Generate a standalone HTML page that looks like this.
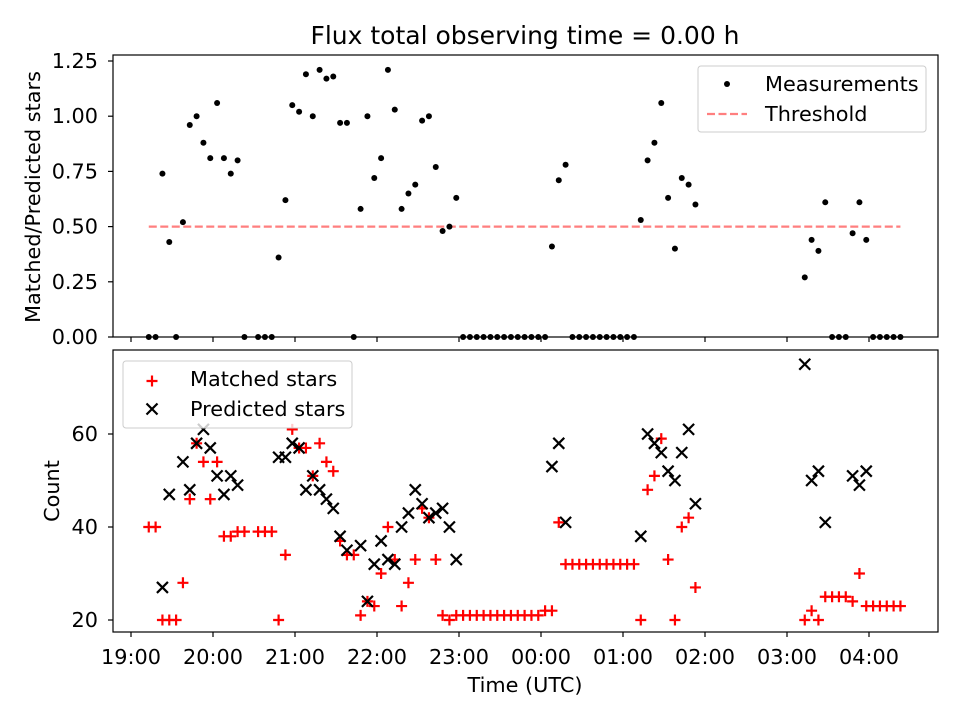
<!DOCTYPE html>
<html><head><meta charset="utf-8"><style>
body{margin:0;background:#fff;font-family:"Liberation Sans","DejaVu Sans",sans-serif}
svg text{font-family:"DejaVu Sans","Liberation Sans",sans-serif}
</style></head><body>
<svg id="c" width="960" height="720" xmlns="http://www.w3.org/2000/svg"></svg>
<script>
// Data: minutes since 19:00 via index k -> 13 + 5k
const idx = [0,1,2,3,4,5,6,7,8,9,10,11,12,13,14,16,17,18,19,20,21,22,23,24,25,26,27,28,29,30,31,32,33,34,35,36,37,38,39,40,41,42,43,44,45,46,47,48,49,50,51,52,53,54,55,56,57,58,59,60,61,62,63,64,65,66,67,68,69,70,71,72,73,74,75,76,77,78,79,80,96,97,98,99,100,101,102,103,104,105,106,107,108,109,110];
const ratio = [0,0,0.74,0.43,0,0.52,0.96,1.0,0.88,0.81,1.06,0.81,0.74,0.80,0,0,0,0,0.36,0.62,1.05,1.02,1.19,1.0,1.21,1.17,1.18,0.97,0.97,0,0.58,1.0,0.72,0.81,1.21,1.03,0.58,0.65,0.69,0.98,1.0,0.77,0.48,0.50,0.63,0,0,0,0,0,0,0,0,0,0,0,0,0,0.41,0.71,0.78,0,0,0,0,0,0,0,0,0,0,0.53,0.80,0.88,1.06,0.63,0.40,0.72,0.69,0.60,0.27,0.44,0.39,0.61,0,0,0,0.47,0.61,0.44,0,0,0,0,0];
const matched = [40,40,20,20,20,28,46,58,54,46,54,38,38,39,39,39,39,39,20,34,61,57,57,51,58,54,52,37,34,34,21,24,23,30,40,33,23,28,33,44,42,33,21,20,21,21,21,21,21,21,21,21,21,21,21,21,21,22,22,41,32,32,32,32,32,32,32,32,32,32,32,20,48,51,59,33,20,40,42,27,20,22,20,25,25,25,25,24,30,23,23,23,23,23,23];
const predicted = [null,null,27,47,null,54,48,58,61,57,51,47,51,49,null,null,null,null,55,55,58,57,48,51,48,46,44,38,35,null,36,24,32,37,33,32,40,43,48,45,42,43,44,40,33,null,null,null,null,null,null,null,null,null,null,null,null,null,53,58,41,null,null,null,null,null,null,null,null,null,null,38,60,58,56,52,50,56,61,45,75,50,52,41,null,null,null,51,49,52,null,null,null,null,null];
const threshold = [0.5, 0.5];
const thresholdSpan = [13, 563];
const xTickLabels = ["19:00","20:00","21:00","22:00","23:00","00:00","01:00","02:00","03:00","04:00"];
const topTicks = [0,0.25,0.5,0.75,1.0,1.25];
const botTicks = [20,40,60];

const NS="http://www.w3.org/2000/svg", svg=document.getElementById('c');
function el(t,a,p){const e=document.createElementNS(NS,t);for(const k in a)e.setAttribute(k,a[k]);(p||svg).appendChild(e);return e;}
const L=113,R=938,FS=20.8;
const xs=m=>131+m*82/60;
const yTop=v=>337-v*220.8;
const yBot=v=>620-(v-20)*4.65;
const times=idx.map(k=>13+5*k);

function frame(y0,y1,name){
  const r=el('rect',{x:L,y:y0,width:R-L,height:y1-y0,fill:'none',stroke:'#000','stroke-width':1.2});
  
  xTickLabels.forEach((s,i)=>{const x=xs(i*60);el('line',{x1:x,x2:x,y1:y1,y2:y1+5,stroke:'#000','stroke-width':1.2});});
}
frame(55,337,'top-axes');frame(350,632,'bottom-axes');
let t=el('text',{x:525,y:44,'text-anchor':'middle','font-size':25});t.textContent='Flux total observing time = 0.00 h';

topTicks.forEach(v=>{const y=yTop(v);el('line',{x1:L-5,x2:L,y1:y,y2:y,stroke:'#000','stroke-width':1.2});const tx=el('text',{x:L-15,y:y+7,'text-anchor':'end','font-size':FS});tx.textContent=v.toFixed(2);});
botTicks.forEach(v=>{const y=yBot(v);el('line',{x1:L-5,x2:L,y1:y,y2:y,stroke:'#000','stroke-width':1.2});const tx=el('text',{x:L-15,y:y+7,'text-anchor':'end','font-size':FS});tx.textContent=v;});
xTickLabels.forEach((s,i)=>{const tx=el('text',{x:xs(i*60),y:664,'text-anchor':'middle','font-size':FS});tx.textContent=s;});
t=el('text',{x:525,y:692,'text-anchor':'middle','font-size':FS});t.textContent='Time (UTC)';
t=el('text',{x:0,y:0,'text-anchor':'middle','font-size':FS,transform:'translate(40,197) rotate(-90)'});t.textContent='Matched/Predicted stars';
t=el('text',{x:0,y:0,'text-anchor':'middle','font-size':FS,transform:'translate(59,491) rotate(-90)'});t.textContent='Count';

let th=el('line',{x1:xs(thresholdSpan[0]),x2:xs(thresholdSpan[1]),y1:yTop(threshold[0]),y2:yTop(threshold[1]),stroke:'#ff7f7f','stroke-width':2.2,'stroke-dasharray':'8,3.5'});

times.forEach((m,i)=>{const c=el('circle',{cx:xs(m),cy:yTop(ratio[i]),r:3,fill:'#000'});
});
times.forEach((m,i)=>{const x=xs(m),y=yBot(matched[i]);const g=el('path',{d:`M${x-5.5} ${y}H${x+5.5}M${x} ${y-5.5}V${y+5.5}`,stroke:'#f00','stroke-width':2.2});
});
times.forEach((m,i)=>{if(predicted[i]==null)return;const x=xs(m),y=yBot(predicted[i]);const g=el('path',{d:`M${x-5.5} ${y-5.5}L${x+5.5} ${y+5.5}M${x-5.5} ${y+5.5}L${x+5.5} ${y-5.5}`,stroke:'#000','stroke-width':2.2});
});

let lg=el('g',{});
el('rect',{x:698,y:66,width:228,height:66,rx:3,fill:'#fff','fill-opacity':0.8,stroke:'#ccc'},lg);
el('circle',{cx:727,cy:84,r:3,fill:'#000'},lg);
t=el('text',{x:765,y:91,'font-size':FS},lg);t.textContent='Measurements';
el('line',{x1:707,x2:747,y1:114,y2:114,stroke:'#ff7f7f','stroke-width':2.2,'stroke-dasharray':'8,3.5'},lg);
t=el('text',{x:765,y:121,'font-size':FS},lg);t.textContent='Threshold';
lg=el('g',{});
el('rect',{x:123,y:361,width:229,height:67,rx:3,fill:'#fff','fill-opacity':0.8,stroke:'#ccc'},lg);
el('path',{d:'M146.5 381H157.5M152 375.5V386.5',stroke:'#f00','stroke-width':2.2},lg);
t=el('text',{x:190,y:386,'font-size':FS},lg);t.textContent='Matched stars';
el('path',{d:'M146.5 403.5L157.5 414.5M146.5 414.5L157.5 403.5',stroke:'#000','stroke-width':2.2},lg);
t=el('text',{x:190,y:416,'font-size':FS},lg);t.textContent='Predicted stars';
</script>
</body></html>
